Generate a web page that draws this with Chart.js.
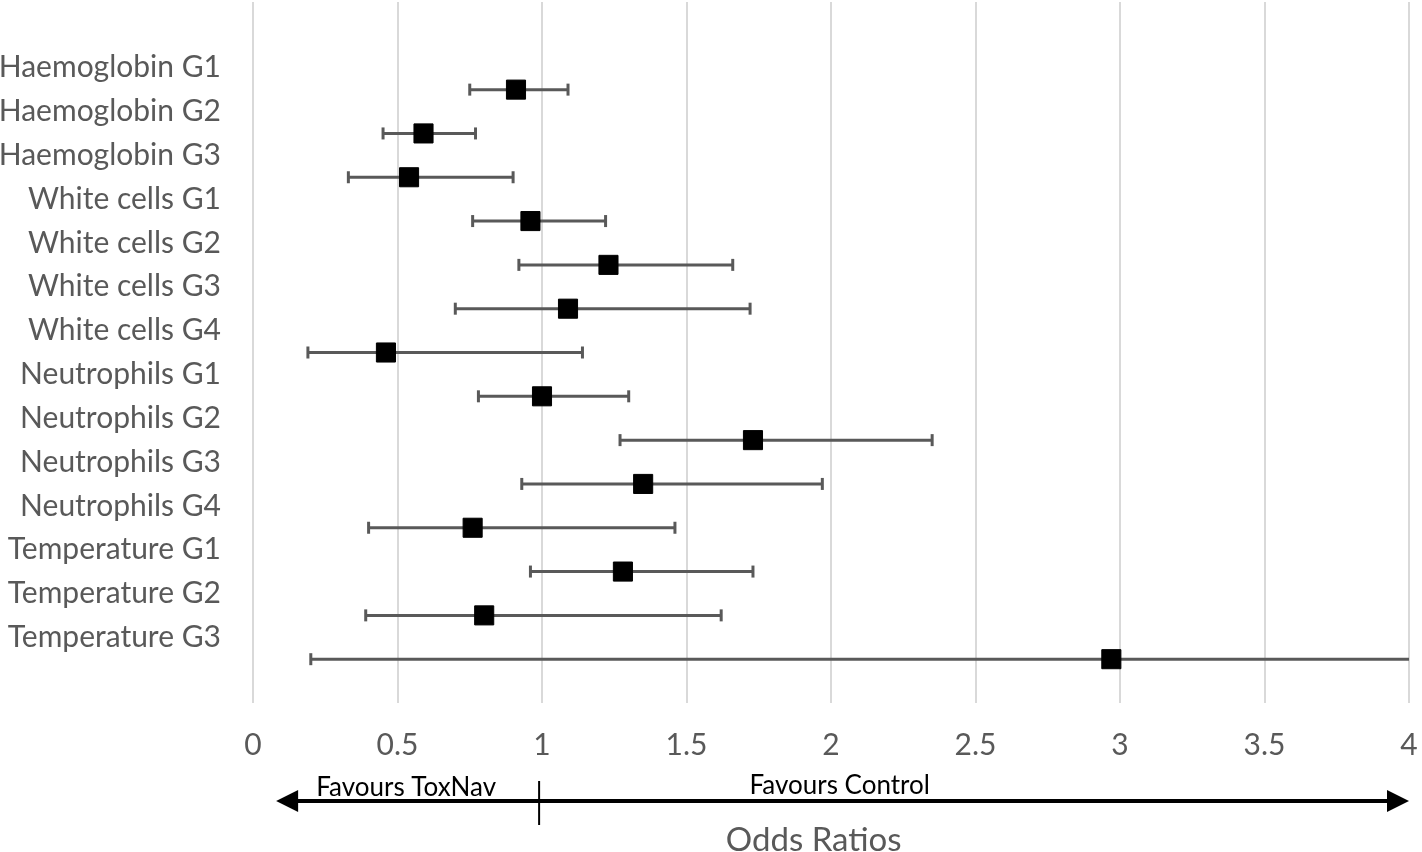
<!DOCTYPE html>
<html>
<head>
<meta charset="utf-8">
<script src="https://cdn.jsdelivr.net/npm/chart.js@4/dist/chart.umd.min.js"></script>
<style>
  html, body { margin: 0; padding: 0; background: #ffffff; }
  #wrap { width: 1422px; height: 852px; }
</style>
</head>
<body>
<div id="wrap"><canvas id="c" width="1422" height="852"></canvas></div>
<script>
const categories = ['Haemoglobin G1','Haemoglobin G2','Haemoglobin G3','White cells G1','White cells G2','White cells G3','White cells G4','Neutrophils G1','Neutrophils G2','Neutrophils G3','Neutrophils G4','Temperature G1','Temperature G2','Temperature G3'];
const oddsRatio = [0.91, 0.59, 0.54, 0.96, 1.23, 1.09, 0.46, 1.00, 1.73, 1.35, 0.76, 1.28, 0.80, 2.97];
const ciLower   = [0.75, 0.45, 0.33, 0.76, 0.92, 0.70, 0.19, 0.78, 1.27, 0.93, 0.40, 0.96, 0.39, 0.20];
const ciUpper   = [1.09, 0.77, 0.90, 1.22, 1.66, 1.72, 1.14, 1.30, 2.35, 1.97, 1.46, 1.73, 1.62, 4.30];
const xTickMax = 4;
const xTickStep = 0.5;
const xAxisTitle = 'Odds Ratios';
const leftNote = 'Favours ToxNav';
const rightNote = 'Favours Control';

const FONT = 'Lato, "Open Sans", sans-serif';
const GREY = '#595959';

const ciDatasets = categories.map((c, i) => ({
  label: c + ' CI',
  data: [{x: ciLower[i], y: i + 1}, {x: ciUpper[i], y: i + 1}],
  showLine: true,
  borderColor: GREY,
  borderWidth: 3,
  pointStyle: 'line',
  pointRotation: 90,
  pointRadius: 6,
  pointBorderWidth: 3,
  pointBorderColor: GREY,
  pointBackgroundColor: GREY,
  order: 2
}));

const markerDataset = {
  label: 'Odds ratio',
  data: oddsRatio.map((v, i) => ({x: v, y: i + 1})),
  showLine: false,
  pointStyle: 'rect',
  pointRadius: 13.5,
  pointBackgroundColor: '#000000',
  pointBorderColor: '#000000',
  pointBorderWidth: 1,
  order: 1
};

const notePlugin = {
  id: 'favours',
  afterDraw(chart) {
    const ctx = chart.ctx;
    const xs = chart.scales.x;
    const yLine = 801;
    const xL = xs.getPixelForValue(0.08);
    const xR = xs.getPixelForValue(xTickMax);
    const xMid = xs.getPixelForValue(0.99);
    ctx.save();
    ctx.strokeStyle = '#000';
    ctx.fillStyle = '#000';
    ctx.lineWidth = 4;
    ctx.beginPath();
    ctx.moveTo(xL + 18, yLine);
    ctx.lineTo(xR - 18, yLine);
    ctx.stroke();
    ctx.beginPath();
    ctx.moveTo(xL, yLine);
    ctx.lineTo(xL + 22, yLine - 11);
    ctx.lineTo(xL + 22, yLine + 11);
    ctx.closePath();
    ctx.fill();
    ctx.beginPath();
    ctx.moveTo(xR, yLine);
    ctx.lineTo(xR - 22, yLine - 11);
    ctx.lineTo(xR - 22, yLine + 11);
    ctx.closePath();
    ctx.fill();
    ctx.lineWidth = 2;
    ctx.beginPath();
    ctx.moveTo(xMid, 781);
    ctx.lineTo(xMid, 825);
    ctx.stroke();
    ctx.font = '26px ' + FONT;
    ctx.textAlign = 'center';
    ctx.textBaseline = 'alphabetic';
    ctx.fillText(leftNote, xs.getPixelForValue(0.53), 796);
    ctx.fillText(rightNote, xs.getPixelForValue(2.03), 794);
    // axis title
    ctx.fillStyle = GREY;
    ctx.font = '33px ' + FONT;
    ctx.textBaseline = 'middle';
    ctx.fillText(xAxisTitle, xs.getPixelForValue(1.94), 840);
    ctx.restore();
  }
};

new Chart(document.getElementById('c'), {
  type: 'scatter',
  data: { datasets: [markerDataset, ...ciDatasets] },
  options: {
    responsive: false,
    animation: false,
    layout: { autoPadding: false, padding: { top: 2, right: 13, left: 0, bottom: 0 } },
    plugins: { legend: { display: false }, tooltip: { enabled: false } },
    scales: {
      x: {
        type: 'linear',
        min: 0,
        max: xTickMax,
        grid: { color: '#d9d9d9', lineWidth: 2, drawTicks: false },
        border: { display: false },
        ticks: {
          stepSize: xTickStep,
          color: GREY,
          font: { family: FONT, size: 30 },
          padding: 24,
          maxRotation: 0,
          callback: (v) => String(+Number(v).toFixed(2))
        },
        title: { display: false },
        afterFit(scale) {
          scale.height = 149;
          scale.paddingLeft = 0;
          scale.paddingRight = 0;
        }
      },
      y: {
        type: 'linear',
        min: -1,
        max: 15,
        reverse: true,
        grid: { display: false, drawTicks: false },
        border: { display: false },
        afterBuildTicks(scale) {
          scale.ticks = categories.map((c, k) => ({ value: k + 0.5 }));
        },
        ticks: {
          color: GREY,
          font: { family: FONT, size: 30 },
          padding: 32,
          autoSkip: false,
          callback: (v, idx) => categories[idx]
        },
        afterFit(scale) {
          scale.width = 253;
          scale.paddingTop = 0;
          scale.paddingBottom = 0;
        }
      }
    }
  },
  plugins: [notePlugin]
});
</script>
</body>
</html>
